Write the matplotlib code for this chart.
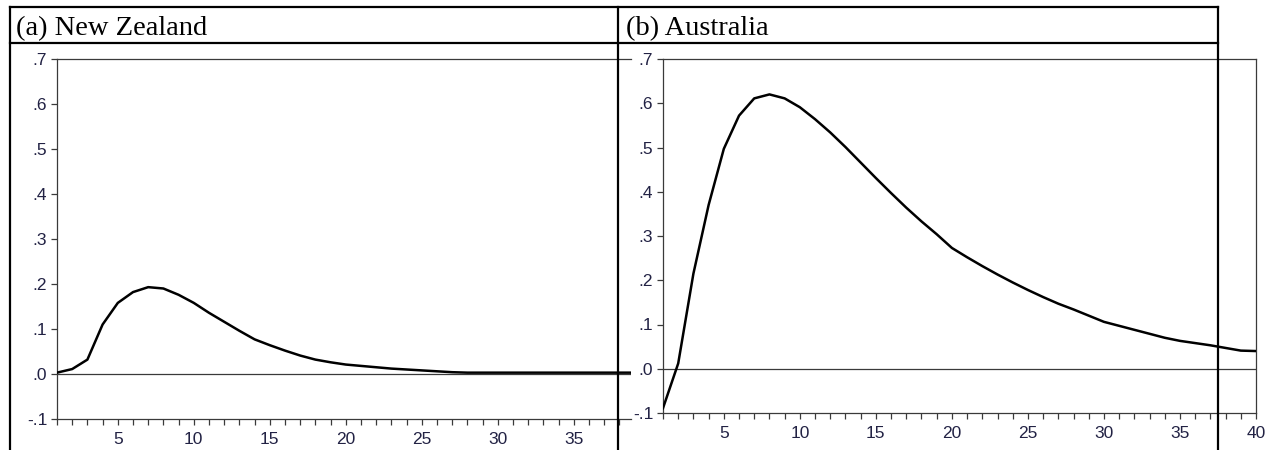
import matplotlib
matplotlib.use("Agg")
import matplotlib.pyplot as plt
from matplotlib.lines import Line2D
from matplotlib.ticker import MultipleLocator, FixedLocator

# impulse responses, horizon 1..40
horizon = list(range(1, 41))
nz_resp = [0.003, 0.011, 0.032, 0.110, 0.158, 0.182, 0.193, 0.190, 0.176, 0.158,
           0.136, 0.116, 0.096, 0.077, 0.064, 0.052, 0.041, 0.032, 0.026, 0.021,
           0.018, 0.015, 0.012, 0.010, 0.008, 0.006, 0.004, 0.003, 0.003, 0.003,
           0.003, 0.003, 0.003, 0.003, 0.003, 0.003, 0.003, 0.003, 0.003, 0.003]
au_resp = [-0.089, 0.012, 0.215, 0.370, 0.497, 0.572, 0.611, 0.620, 0.611, 0.591,
           0.564, 0.534, 0.501, 0.466, 0.431, 0.397, 0.364, 0.333, 0.304, 0.273,
           0.252, 0.232, 0.213, 0.195, 0.178, 0.162, 0.147, 0.134, 0.120, 0.106,
           0.097, 0.088, 0.079, 0.070, 0.063, 0.058, 0.053, 0.047, 0.041, 0.040]

panel_titles = ["(a) New Zealand", "(b) Australia"]
yticks = [-0.1, 0.0, 0.1, 0.2, 0.3, 0.4, 0.5, 0.6, 0.7]
ytick_labels = ["-.1", ".0", ".1", ".2", ".3", ".4", ".5", ".6", ".7"]
xticks = [5, 10, 15, 20, 25, 30, 35, 40]

W, H = 1274, 450
fig = plt.figure(figsize=(W / 100, H / 100), dpi=100)
tick_font = dict(fontsize=12.5, fontfamily=["Liberation Sans Narrow", "Liberation Sans"],
                 color="#222244")


def box(l, t, r, b):
    return [l / W, 1 - b / H, (r - l) / W, (b - t) / H]


def style_axes(ax, xmax, show_right):
    ax.set_xlim(1, xmax)
    ax.set_ylim(-0.1, 0.7)
    for side, sp in ax.spines.items():
        sp.set_color("#3a3a3a")
        sp.set_linewidth(0.9)
    ax.spines["right"].set_visible(show_right)
    ax.yaxis.set_major_locator(FixedLocator(yticks))
    ax.set_yticklabels(ytick_labels, **tick_font)
    ax.xaxis.set_major_locator(FixedLocator(xticks))
    ax.xaxis.set_minor_locator(MultipleLocator(1))
    ax.set_xticklabels([str(t) for t in xticks], **tick_font)
    ax.tick_params(axis="both", which="both", direction="out", length=4,
                   width=0.9, color="#3a3a3a")
    ax.tick_params(axis="x", pad=5)
    ax.tick_params(axis="y", pad=3)
    ax.axhline(0, color="#3a3a3a", lw=0.9, zorder=1)


# left panel (clipped by the right cell)
ax1 = fig.add_axes(box(57, 59, 631, 419))
ax1.plot(horizon, nz_resp, color="black", lw=1.8, zorder=3)
style_axes(ax1, 1 + (631 - 57) / 15.2, False)

# right panel
ax2 = fig.add_axes(box(663, 59, 1256, 413))
ax2.plot(horizon, au_resp, color="black", lw=1.8, zorder=3)
style_axes(ax2, 40, True)

# table borders
lw = 1.6
def hline(y, x0, x1):
    fig.add_artist(Line2D([x0 / W, x1 / W], [1 - y / H, 1 - y / H],
                          color="black", lw=lw, zorder=10))

def vline(x, y0, y1):
    fig.add_artist(Line2D([x / W, x / W], [1 - y0 / H, 1 - y1 / H],
                          color="black", lw=lw, zorder=10))

hline(7, 10, 1218)
hline(43, 10, 1218)
for xv in [10, 618, 1218]:
    vline(xv, 7, 450)

fig.text(16 / W, 1 - 35 / H, panel_titles[0], fontsize=20.5,
         fontfamily="Liberation Serif", color="black", va="baseline")
fig.text(626 / W, 1 - 35 / H, panel_titles[1], fontsize=20.5,
         fontfamily="Liberation Serif", color="black", va="baseline")

fig.savefig("out.png", dpi=100)
